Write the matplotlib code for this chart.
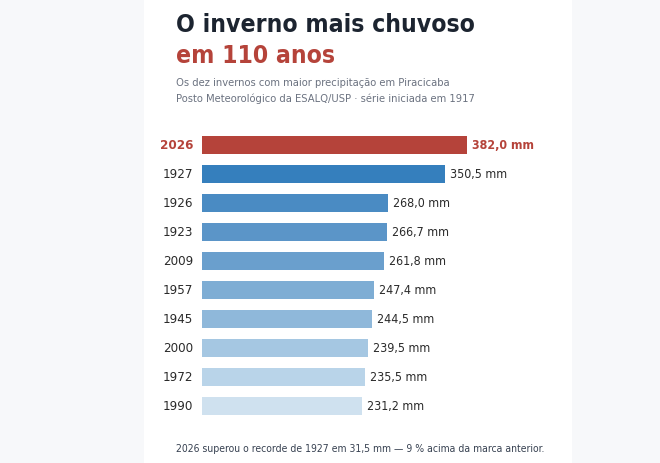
import numpy as np
import matplotlib.pyplot as plt
from matplotlib.patches import Rectangle

years = ["2026", "1927", "1926", "1923", "2009", "1957", "1945", "2000", "1972", "1990"]
rain_mm = [382.0, 350.5, 268.0, 266.7, 261.8, 247.4, 244.5, 239.5, 235.5, 231.2]
value_labels = ["382,0 mm", "350,5 mm", "268,0 mm", "266,7 mm", "261,8 mm",
                "247,4 mm", "244,5 mm", "239,5 mm", "235,5 mm", "231,2 mm"]

title_1 = "O inverno mais chuvoso"
title_2 = "em 110 anos"
subtitle_1 = "Os dez invernos com maior precipitação em Piracicaba"
subtitle_2 = "Posto Meteorológico da ESALQ/USP · série iniciada em 1917"
footer = "2026 superou o recorde de 1927 em 31,5 mm — 9 % acima da marca anterior."

RED = "#b5433a"
DARK = "#1c2430"
GRAY = "#6b7280"
TXT = "#2a2a2a"
bar_colors = ["#b5433a", "#357fbd", "#4a8bc3", "#5b95c8", "#6a9fcd",
              "#7eadd4", "#8fb8da", "#a5c7e2", "#b9d4e9", "#cfe1ef"]
W, H = 660, 464

plt.rcParams["font.family"] = ["DejaVu Sans"]
plt.rcParams["font.stretch"] = "condensed"
fig = plt.figure(figsize=(W / 100, H / 100), dpi=100, facecolor="#f7f8fa")

# white card behind everything
fig.patches.append(Rectangle((144 / W, 0), (572 - 144) / W, 1, transform=fig.transFigure,
                             facecolor="white", edgecolor="none", zorder=-5))

px_per_mm = 265 / 382.0
ax = fig.add_axes([202 / W, 1 - 421.5 / H, (572 - 202) / W, 290 / H])
ax.set_zorder(2)
ax.set_facecolor("none")
y = np.arange(len(years))
ax.barh(y, rain_mm, height=0.63, color=bar_colors)
ax.set_xlim(0, (572 - 202) / px_per_mm)
ax.set_ylim(len(years) - 0.5, -0.5)
ax.set_yticks(y)
ax.set_yticklabels(years, fontsize=9.5, color=TXT, va="center")
ax.tick_params(axis="y", length=0, pad=6.5)
ax.set_xticks([])
for s in ax.spines.values():
    s.set_visible(False)

lab = ax.get_yticklabels()[0]
lab.set_color(RED)
lab.set_fontweight("bold")

for i, (v, t) in enumerate(zip(rain_mm, value_labels)):
    ax.annotate(t, (v, i), xytext=(3.6, 0), textcoords="offset points",
                va="center", ha="left", fontsize=8.9,
                color=RED if i == 0 else TXT,
                fontweight="bold" if i == 0 else "normal")

fig.text(176 / W, 1 - 32.5 / H, title_1, fontsize=17.7, fontweight="bold", color=DARK, va="baseline")
fig.text(176 / W, 1 - 63.3 / H, title_2, fontsize=17.7, fontweight="bold", color=RED, va="baseline")
fig.text(176 / W, 1 - 85.7 / H, subtitle_1, fontsize=8, color=GRAY, va="baseline")
fig.text(176 / W, 1 - 101.7 / H, subtitle_2, fontsize=8, color=GRAY, va="baseline")
fig.text(360 / W, 1 - 451.7 / H, footer, fontsize=7.5, color="#374151", va="baseline", ha="center")

fig.savefig("out.png", dpi=100, facecolor=fig.get_facecolor())
